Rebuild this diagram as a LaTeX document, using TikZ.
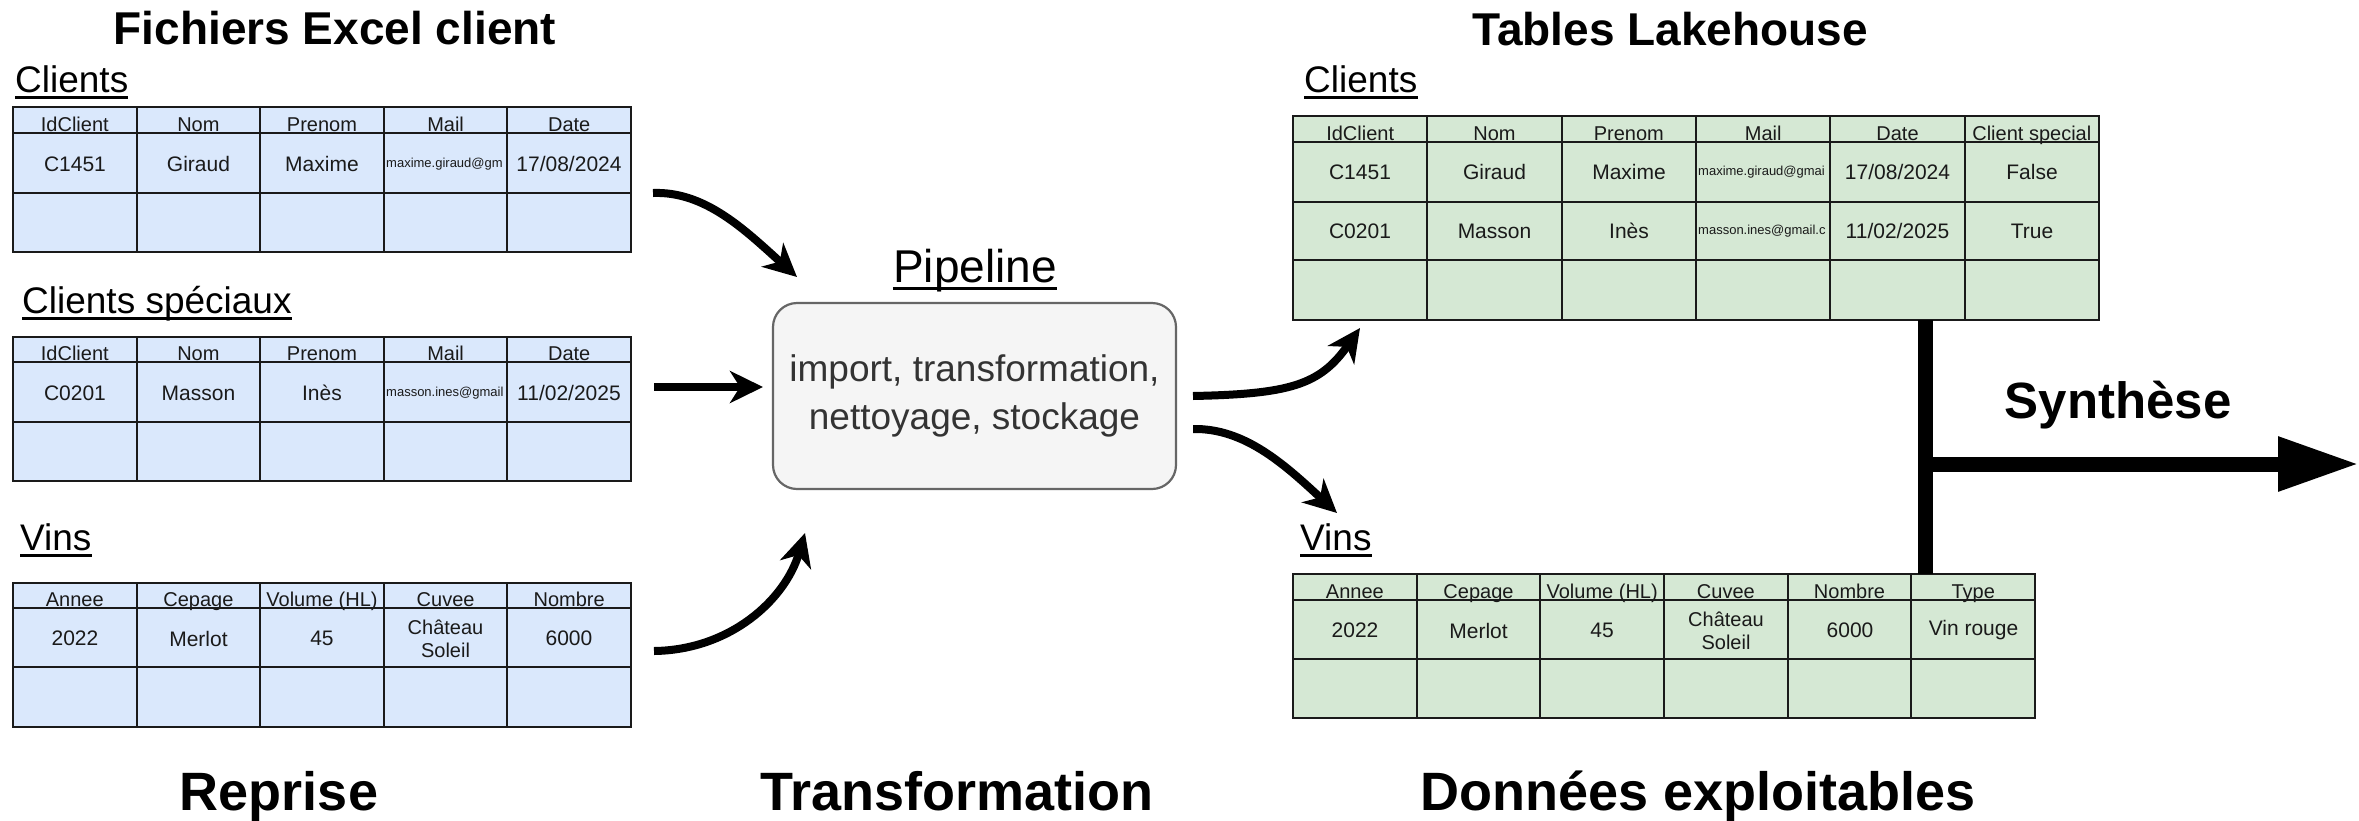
\documentclass[tikz,border=0pt]{standalone}
\usepackage{fontspec}
\setmainfont{Liberation Sans}
\usetikzlibrary{arrows.meta}
\definecolor{bluefill}{HTML}{DAE8FC}
\definecolor{greenfill}{HTML}{D5E8D4}
\definecolor{boxfill}{HTML}{F5F5F5}
\definecolor{boxline}{HTML}{666666}
\definecolor{boxtext}{HTML}{333333}
\definecolor{gridc}{HTML}{1A1A1A}
\begin{document}
\begin{tikzpicture}[x=1pt,y=-1pt,
  frame/.style={draw=gridc, line width=2.2pt, inner sep=0pt, outer sep=0pt},
  gridline/.style={draw=gridc, line width=2pt},
  hd/.style={anchor=base, inner sep=0pt, text=gridc, font=\fontsize{20}{24}\selectfont},
  cell/.style={inner sep=0pt, text=gridc, align=center, font=\fontsize{21}{25}\selectfont},
  wcell/.style={inner sep=0pt, text=gridc, align=center, font=\fontsize{20}{23}\selectfont},
  mailcell/.style={anchor=west, inner sep=0pt, text=gridc, font=\fontsize{13}{15}\selectfont},
  title/.style={anchor=base, inner sep=0pt, font=\fontsize{46}{55}\selectfont\bfseries},
  big/.style={anchor=base, inner sep=0pt, font=\fontsize{54}{64}\selectfont\bfseries},
  sect/.style={anchor=base west, inner sep=0pt, font=\fontsize{37}{44}\selectfont},
  ul/.style={line width=3pt},
  flow/.style={line width=8pt, -{Stealth[length=33pt,width=32pt,inset=10pt]}},
  synline/.style={line width=15pt},
  synarrow/.style={line width=15pt, -{Triangle[length=81pt,width=51pt]}},
  pipebox/.style={draw=boxline, fill=boxfill, line width=2.2pt, rounded corners=24pt,
    text=boxtext, align=center, font=\fontsize{37}{48}\selectfont}
]
\useasboundingbox (0,0) rectangle (2359,820);
\fill[white] (0,0) rectangle (2359,820);

% ---------- titles ----------
\node[title] (tleft) at (335,44) {Fichiers Excel client};
\node[title] (tright) at (1670,45) {Tables Lakehouse};

% ---------- left: Clients ----------
\node[sect] (l1) at (15,92) {Clients};
\draw[ul] ([yshift=-5pt]l1.base west) -- ([yshift=-5pt]l1.base east);
\node[frame, fill=bluefill, minimum width=618pt, minimum height=145pt] (T1) at (322,179.5) {};
\foreach \xx in {137,260,384,507} \draw[gridline] (\xx,107) -- (\xx,252);
\foreach \yy in {133,193} \draw[gridline] (13,\yy) -- (631,\yy);
\foreach \t [count=\i] in {IdClient,Nom,Prenom,Mail,Date}
  \node[hd] (T1h\i) at ({13+123.6*(\i-0.5)},131) {\t};
\node[cell] (T1a) at (75,164) {C1451};
\node[cell] (T1b) at (198.5,164) {Giraud};
\node[cell] (T1c) at (322,164) {Maxime};
\node[mailcell] (T1d) at (386,164) {maxime.giraud@gm};
\node[cell] (T1e) at (569,164) {17/08/2024};

% ---------- left: Clients speciaux ----------
\node[sect] (l2) at (22,313) {Clients spéciaux};
\draw[ul] ([yshift=-5pt]l2.base west) -- ([yshift=-5pt]l2.base east);
\node[frame, fill=bluefill, minimum width=618pt, minimum height=144pt] (T2) at (322,409) {};
\foreach \xx in {137,260,384,507} \draw[gridline] (\xx,337) -- (\xx,481);
\foreach \yy in {362,422} \draw[gridline] (13,\yy) -- (631,\yy);
\foreach \t [count=\i] in {IdClient,Nom,Prenom,Mail,Date}
  \node[hd] (T2h\i) at ({13+123.6*(\i-0.5)},360) {\t};
\node[cell] (T2a) at (75,393) {C0201};
\node[cell] (T2b) at (198.5,393) {Masson};
\node[cell] (T2c) at (322,393) {Inès};
\node[mailcell] (T2d) at (386,393) {masson.ines@gmail};
\node[cell] (T2e) at (569,393) {11/02/2025};

% ---------- left: Vins ----------
\node[sect] (l3) at (20,550) {Vins};
\draw[ul] ([yshift=-5pt]l3.base west) -- ([yshift=-5pt]l3.base east);
\node[frame, fill=bluefill, minimum width=618pt, minimum height=144pt] (T3) at (322,655) {};
\foreach \xx in {137,260,384,507} \draw[gridline] (\xx,583) -- (\xx,727);
\foreach \yy in {608,667} \draw[gridline] (13,\yy) -- (631,\yy);
\foreach \t [count=\i] in {Annee,Cepage,Volume (HL),Cuvee,Nombre}
  \node[hd] (T3h\i) at ({13+123.6*(\i-0.5)},606) {\t};
\node[cell] (T3a) at (75,638.5) {2022};
\node[cell] (T3b) at (198.5,638.5) {Merlot};
\node[cell] (T3c) at (322,638.5) {45};
\node[wcell] (T3d) at (445.5,638.5) {Château\\Soleil};
\node[cell] (T3e) at (569,638.5) {6000};

% ---------- pipeline ----------
\node[anchor=base, inner sep=0pt, font=\fontsize{46}{55}\selectfont] (pl) at (975,282) {Pipeline};
\draw[ul] ([yshift=-6pt]pl.base west) -- ([yshift=-6pt]pl.base east);
\node[pipebox, minimum width=403pt, minimum height=186pt] (pipe) at (974.5,396)
  {import, transformation,\\nettoyage, stockage};

% ---------- right: Clients ----------
\node[sect] (r1) at (1304,92) {Clients};
\draw[ul] ([yshift=-5pt]r1.base west) -- ([yshift=-5pt]r1.base east);
\node[frame, fill=greenfill, minimum width=806pt, minimum height=204pt] (T4) at (1696,218) {};
\foreach \xx in {1427.3,1561.7,1696,1830.3,1964.7} \draw[gridline] (\xx,116) -- (\xx,320);
\foreach \yy in {142,202,260} \draw[gridline] (1293,\yy) -- (2099,\yy);
\foreach \t [count=\i] in {IdClient,Nom,Prenom,Mail,Date,Client special}
  \node[hd] (T4h\i) at ({1293+134.33*(\i-0.5)},140) {\t};
\node[cell] (T4a) at (1360,172) {C1451};
\node[cell] (T4b) at (1494.5,172) {Giraud};
\node[cell] (T4c) at (1629,172) {Maxime};
\node[mailcell] (T4d) at (1698,172) {maxime.giraud@gmai};
\node[cell] (T4e) at (1897.5,172) {17/08/2024};
\node[cell] (T4f) at (2032,172) {False};
\node[cell] (T4g) at (1360,231) {C0201};
\node[cell] (T4i) at (1494.5,231) {Masson};
\node[cell] (T4j) at (1629,231) {Inès};
\node[mailcell] (T4k) at (1698,231) {masson.ines@gmail.c};
\node[cell] (T4l) at (1897.5,231) {11/02/2025};
\node[cell] (T4m) at (2032,231) {True};

% ---------- right: Vins ----------
\node[sect] (r2) at (1300,550) {Vins};
\draw[ul] ([yshift=-5pt]r2.base west) -- ([yshift=-5pt]r2.base east);
\node[frame, fill=greenfill, minimum width=742pt, minimum height=144pt] (T5) at (1664,646) {};
\foreach \xx in {1416.7,1540.3,1664,1787.7,1911.3} \draw[gridline] (\xx,574) -- (\xx,718);
\foreach \yy in {600,659} \draw[gridline] (1293,\yy) -- (2035,\yy);
\foreach \t [count=\i] in {Annee,Cepage,Volume (HL),Cuvee,Nombre,Type}
  \node[hd] (T5h\i) at ({1293+123.67*(\i-0.5)},598) {\t};
\node[cell] (T5a) at (1355,630.5) {2022};
\node[cell] (T5b) at (1478.5,630.5) {Merlot};
\node[cell] (T5c) at (1602,630.5) {45};
\node[wcell] (T5d) at (1726,630.5) {Château\\Soleil};
\node[cell] (T5e) at (1850,630.5) {6000};
\node[cell] (T5f) at (1973.5,630.5) {Vin rouge};

% ---------- flows ----------
\coordinate (a1s) at (653,193);  \coordinate (a1e) at (797,277);
\coordinate (a2s) at (654,387);  \coordinate (a2e) at (763,387);
\coordinate (a3s) at (654,651);  \coordinate (a3e) at (805,533);
\coordinate (b1s) at (1193,396); \coordinate (b1e) at (1360,328);
\coordinate (b2s) at (1193,429); \coordinate (b2e) at (1337,513);
\draw[flow] (a1s) .. controls (705,191) and (745,230) .. (a1e);
\draw[flow] (a2s) -- (a2e);
\draw[flow] (a3s) .. controls (730,650) and (785,600) .. (a3e);
\draw[flow] (b1s) .. controls (1290,394) and (1320,385) .. (b1e);
\draw[flow] (b2s) .. controls (1245,428) and (1285,465) .. (b2e);

% ---------- synthese ----------
\coordinate (jn) at (1925.5,464);
\coordinate (synend) at (2359,464);
\draw[synline] (T4.south -| jn) -- (T5.north -| jn);
\draw[synarrow] ([xshift=-7.5pt]jn) -- (synend);
\node[anchor=base, inner sep=0pt, font=\fontsize{51}{60}\selectfont\bfseries] (syn) at (2118,418) {Synthèse};

% ---------- bottom labels ----------
\node[big] (b1) at (279,810) {Reprise};
\node[big] (b2) at (957,810) {Transformation};
\node[big] (b3) at (1698,810) {Données exploitables};
\end{tikzpicture}
\end{document}
